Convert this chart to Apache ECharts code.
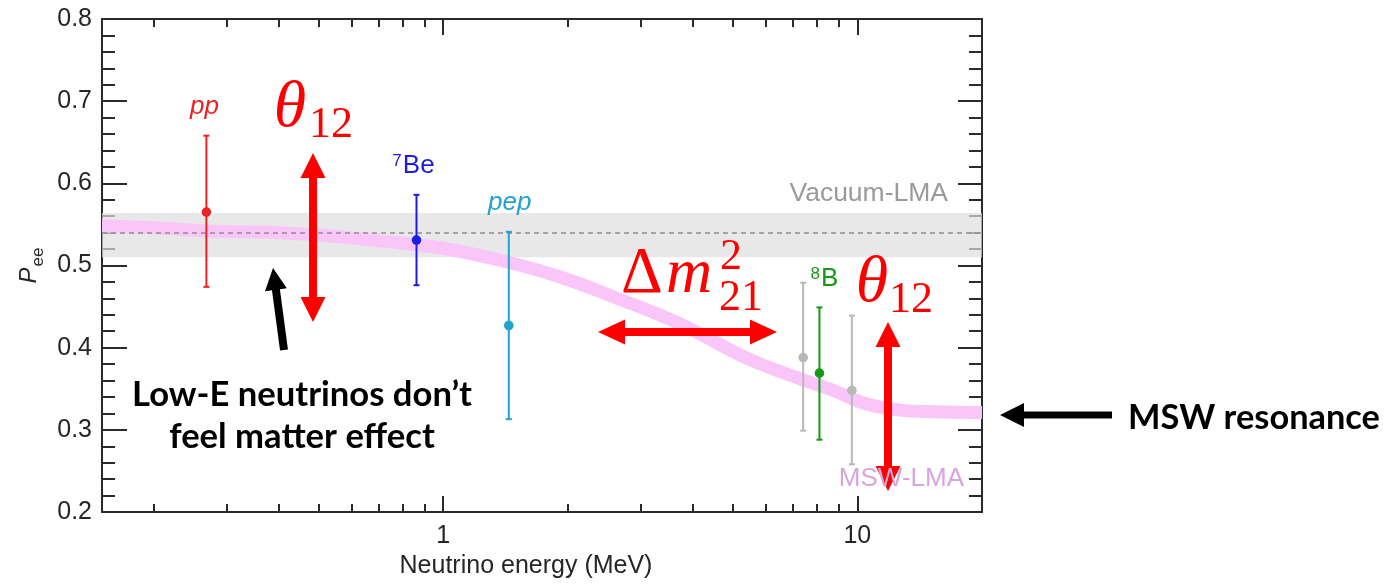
<!DOCTYPE html>
<html><head><meta charset="utf-8">
<script src="https://cdn.jsdelivr.net/npm/echarts@6/dist/echarts.min.js"></script>
<style>html,body{margin:0;padding:0;background:#fff}#c{width:1386px;height:584px}</style>
</head><body><div id="c"></div>
<script>
// ---------- data ----------
const sources   = ['pp', '7Be', 'pep', '8B (a)', '8B', '8B (b)'];
const energies  = [0.268, 0.862, 1.44, 7.4, 8.1, 9.7];
const pee       = [0.565, 0.531, 0.427, 0.388, 0.369, 0.348];
const peeLow    = [0.474, 0.476, 0.313, 0.299, 0.288, 0.258];
const peeHigh   = [0.658, 0.586, 0.541, 0.479, 0.449, 0.439];
const pointLabels = ['{i|pp}', '{sup|7}{n|Be}', '{i|pep}', '', '{sup|8}{n|B}', ''];

const mswEnergy = [0.15, 0.2, 0.268, 0.4, 0.5, 0.704, 1.0, 1.436, 1.917, 2.573, 3.73, 5.42, 7.29, 8.74, 10.6, 12.7, 15.3, 20];
const mswPee    = [0.548, 0.546, 0.542, 0.540, 0.537, 0.530, 0.521, 0.504, 0.486, 0.462, 0.429, 0.387, 0.362, 0.348, 0.331, 0.324, 0.322, 0.321];

const vacuumPee = 0.537;
const vacuumLow = 0.510;
const vacuumHigh = 0.564;

const xMajorTicks = [1, 10];
const xMinorTicks = [0.2, 0.3, 0.4, 0.5, 0.6, 0.7, 0.8, 0.9, 2, 3, 4, 5, 6, 7, 8, 9, 20];
const xMin = 0.15, xMax = 20;
const yMin = 0.2, yMax = 0.8, yStep = 0.1;

// ---------- styles ----------
const pointColors = ['#ee2222', '#1c1ce6', '#22a2d2', '#b8b8b8', '#159a15', '#b8b8b8'];
const labelDx = [-2, -3, 1, 0, 5, 0];
const AX = '#2a2a2a';
const TXT = '#262626';
const SANS = 'Liberation Sans';
const SERIF = 'Liberation Serif';
const RED = '#ff0000';

const chart = echarts.init(document.getElementById('c'), null, {renderer: 'canvas', width: 1386, height: 584});

function xAx(pos, ticks, len, major) {
  return {
    type: 'log', logBase: 10, min: xMin, max: xMax, position: pos,
    axisLine: {show: major, onZero: false, lineStyle: {color: AX, width: 2}},
    axisTick: {show: true, inside: true, length: len, customValues: ticks, lineStyle: {color: AX, width: 2}},
    axisLabel: {show: major && pos === 'bottom', customValues: ticks, margin: 12, color: TXT, fontSize: 25, fontFamily: SANS,
      formatter: v => String(Math.round(v))},
    splitLine: {show: false}, minorTick: {show: false}, minorSplitLine: {show: false}
  };
}
function yAx(pos, major, minor, labels) {
  return {
    type: 'value', min: yMin, max: yMax, interval: yStep, position: pos,
    axisLine: {show: true, onZero: false, lineStyle: {color: AX, width: 2}},
    axisTick: {show: true, inside: true, length: major, lineStyle: {color: AX, width: 2}},
    minorTick: {show: true, splitNumber: 5, length: minor, lineStyle: {color: AX, width: 2}},
    axisLabel: {show: labels, margin: 10, color: TXT, fontSize: 25, fontFamily: SANS, formatter: v => v.toFixed(1)},
    splitLine: {show: false}, minorSplitLine: {show: false}
  };
}

const xAxes = [xAx('bottom', xMajorTicks, 16, true), xAx('bottom', xMinorTicks, 8, false),
               xAx('top', xMajorTicks, 16, true), xAx('top', xMinorTicks, 8, false)];
Object.assign(xAxes[0], {
  name: 'Neutrino energy (MeV)', nameLocation: 'middle', nameGap: 40,
  nameTextStyle: {fontSize: 25, fontFamily: SANS, color: TXT, padding: [0, 32, 0, 0]}
});
const yAxes = [yAx('left', 25, 13, true), yAx('right', 24, 13, false)];
Object.assign(yAxes[0], {
  name: '{p|P}{s|ee}', nameLocation: 'middle', nameRotate: 90, nameGap: 58,
  nameTextStyle: {color: TXT, rich: {
    p: {fontSize: 24, fontStyle: 'italic', fontFamily: SANS, color: TXT, lineHeight: 26, verticalAlign: 'bottom'},
    s: {fontSize: 17, fontFamily: SANS, color: TXT, lineHeight: 26, verticalAlign: 'bottom', padding: [0, 0, -5, 1]}
  }}
});

function arrowPts(x1, y1, x2, y2, shaft, headW, headL, dbl) {
  const dx = x2 - x1, dy = y2 - y1, L = Math.hypot(dx, dy), ux = dx / L, uy = dy / L, nx = -uy, ny = ux;
  const h = shaft / 2, w = headW / 2;
  const P = (t, s) => [x1 + ux * t + nx * s, y1 + uy * t + ny * s];
  if (dbl) return [P(0, 0), P(headL, w), P(headL, h), P(L - headL, h), P(L - headL, w), P(L, 0),
                   P(L - headL, -w), P(L - headL, -h), P(headL, -h), P(headL, -w)];
  return [P(0, h), P(L - headL, h), P(L - headL, w), P(L, 0), P(L - headL, -w), P(L - headL, -h), P(0, -h)];
}
function arrow(x1, y1, x2, y2, shaft, headW, headL, dbl, color) {
  return {type: 'polygon', z: 100, shape: {points: arrowPts(x1, y1, x2, y2, shaft, headW, headL, dbl)}, style: {fill: color}};
}
// text placed by its baseline
function txt(x, baseline, text, size, family, opts) {
  opts = opts || {};
  const k = family === SERIF ? 0.3375 : 0.3465;
  return {type: 'text', z: 100, x: x, y: baseline - k * size, style: Object.assign({
    text: text, fontSize: size, fontFamily: family, fill: RED,
    align: 'center', verticalAlign: 'middle', textAlign: 'center', textVerticalAlign: 'middle'
  }, opts)};
}
function fitSize(text, family, weight, target) {
  const ctx = document.createElement('canvas').getContext('2d');
  ctx.font = weight + ' 100px "' + family + '"';
  return 100 * target / ctx.measureText(text).width;
}
const BOLD = 'Lato';
const lowSize = fitSize('Low-E neutrinos don’t', BOLD, 'bold', 340);
const mswSize = fitSize('MSW resonance', BOLD, 'bold', 252);

const graphics = [
  // theta12 (left)
  txt(290, 131, 'θ', 66, SERIF, {fontStyle: 'italic'}),
  txt(331, 140, '12', 44, SERIF),
  arrow(313, 153, 313, 322, 8, 25, 25, true, RED),
  // theta12 (right)
  txt(872, 306, 'θ', 66, SERIF, {fontStyle: 'italic'}),
  txt(911, 315, '12', 44, SERIF),
  arrow(888, 322, 888, 491, 8, 25, 25, true, RED),
  // delta m^2_21
  txt(642, 297, 'Δ', 65, SERIF),
  txt(689, 297, 'm', 64, SERIF, {fontStyle: 'italic'}),
  txt(731, 272, '2', 44, SERIF),
  txt(741, 313, '21', 44, SERIF),
  arrow(598, 332, 777, 332, 8, 25, 27, true, RED),
  // black notes
  arrow(284, 350, 273, 268, 8, 22, 22, false, '#000'),
  {type: 'text', z: 100, x: 302, y: 416, style: {text: 'Low-E neutrinos don’t\nfeel matter effect',
    fontSize: lowSize, fontWeight: 'bold', fontFamily: BOLD, fill: '#000', lineHeight: 42,
    align: 'center', verticalAlign: 'middle', textAlign: 'center', textVerticalAlign: 'middle'}},
  arrow(1112, 415, 1000, 415, 7, 24, 24, false, '#000'),
  {type: 'text', z: 100, x: 1128, y: 418, style: {text: 'MSW resonance', fontSize: mswSize, fontWeight: 'bold',
    fontFamily: BOLD, fill: '#000', align: 'left', verticalAlign: 'middle', textAlign: 'left', textVerticalAlign: 'middle'}},
  // curve labels
  txt(948, 203, 'Vacuum-LMA', 26.5, SANS, {fill: '#9a9a9a', align: 'right', textAlign: 'right'}),
  txt(964, 488, 'MSW-LMA', 26, SANS, {fill: '#d6a6dc', align: 'right', textAlign: 'right'})
];

const option = {
  animation: false,
  backgroundColor: '#fff',
  grid: {left: 102, top: 19, width: 880, height: 493, containLabel: false},
  xAxis: xAxes,
  yAxis: yAxes,
  series: [
    {
      type: 'line', name: 'MSW-LMA', xAxisIndex: 0, yAxisIndex: 0, smooth: 0.4, showSymbol: false, symbol: 'none',
      data: mswEnergy.map((e, i) => [e, mswPee[i]]),
      lineStyle: {color: '#fac6fa', width: 13, cap: 'butt'}, z: 2, silent: true,
      markArea: {silent: true, itemStyle: {color: 'rgba(222,222,222,0.7)'}, data: [[{yAxis: vacuumLow}, {yAxis: vacuumHigh}]]},
      markLine: {silent: true, symbol: ['none', 'none'], label: {show: false},
        lineStyle: {color: '#8f8f8f', width: 1.5, type: [5, 4]}, data: [{yAxis: vacuumPee}]}
    },
    {
      type: 'custom', name: 'data', xAxisIndex: 0, yAxisIndex: 0, z: 10, clip: false,
      data: energies.map((e, i) => [e, pee[i], peeLow[i], peeHigh[i]]),
      renderItem: function (params, api) {
        const i = params.dataIndex;
        const e = api.value(0);
        const c = api.coord([e, api.value(1)]);
        const lo = api.coord([e, api.value(2)]);
        const hi = api.coord([e, api.value(3)]);
        const col = pointColors[i];
        const cap = 3;
        const ch = [
          {type: 'line', shape: {x1: c[0], y1: lo[1], x2: c[0], y2: hi[1]}, style: {stroke: col, lineWidth: 2}},
          {type: 'line', shape: {x1: c[0] - cap, y1: lo[1], x2: c[0] + cap, y2: lo[1]}, style: {stroke: col, lineWidth: 2}},
          {type: 'line', shape: {x1: c[0] - cap, y1: hi[1], x2: c[0] + cap, y2: hi[1]}, style: {stroke: col, lineWidth: 2}},
          {type: 'circle', shape: {cx: c[0], cy: c[1], r: 4.8}, style: {fill: col}}
        ];
        if (pointLabels[i]) {
          ch.push({type: 'text', x: c[0] + labelDx[i], y: hi[1] - 29, style: {
            text: pointLabels[i], fill: col, align: 'center', verticalAlign: 'middle',
            rich: {
              i: {fontSize: 26, fontStyle: 'italic', fontFamily: SANS, fill: col, lineHeight: 28},
              n: {fontSize: 26, fontFamily: SANS, fill: col, lineHeight: 28},
              sup: {fontSize: 17, fontFamily: SANS, fill: col, lineHeight: 28, verticalAlign: 'top', padding: [1, 1, 0, 0]}
            }
          }});
        }
        return {type: 'group', children: ch};
      }
    }
  ],
  graphic: {elements: graphics}
};
chart.setOption(option);
</script>
</body></html>
